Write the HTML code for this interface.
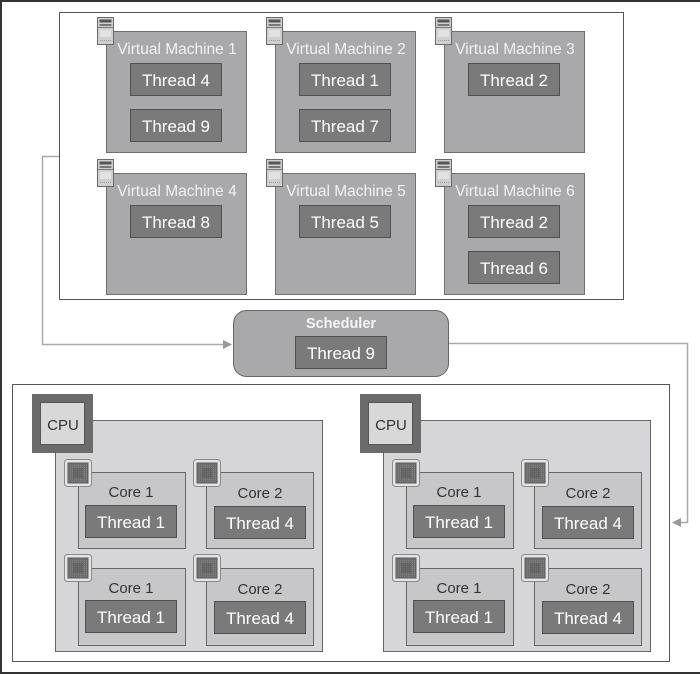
<!DOCTYPE html>
<html><head><meta charset="utf-8"><style>
html,body{margin:0;padding:0;background:#fff;}
svg{display:block;}
text{font-family:"Liberation Sans",Arial,sans-serif;}
</style></head><body>
<svg width="700" height="674" viewBox="0 0 700 674" xmlns="http://www.w3.org/2000/svg">
<defs>
  <g id="srv">
    <rect x="0.5" y="0.5" width="16" height="27" fill="#d0d0d0" stroke="#6a6a6a"/>
    <rect x="2.5" y="2.5" width="12" height="3" fill="#555"/>
    <rect x="2.5" y="7" width="12" height="2" fill="#777"/>
    <line x1="0.5" y1="10.5" x2="16.5" y2="10.5" stroke="#777"/>
    <rect x="3" y="13" width="11" height="7" fill="#e2e2e2"/>
    <line x1="3" y1="23.5" x2="14" y2="23.5" stroke="#999" stroke-dasharray="1,1"/>
  </g>
  <pattern id="chipPat" width="2" height="2" patternUnits="userSpaceOnUse">
    <rect width="2" height="2" fill="#6e6e6e"/>
    <rect width="1" height="1" fill="#808080"/>
  </pattern>
  <g id="chip">
    <rect x="0.5" y="0.5" width="27" height="27" rx="3" fill="#e4e4e4" stroke="#8a8a8a"/>
    <rect x="4" y="4" width="20" height="20" fill="url(#chipPat)" stroke="#5a5a5a"/>
    <rect x="9" y="9" width="10" height="10" fill="#5e5e5e" opacity="0.6"/>
  </g>
  <g id="thread">
    <rect x="0.5" y="0.5" width="91" height="32" fill="#7a7a7a" stroke="#505050"/>
  </g>
</defs>

<!-- outer frame -->
<line x1="0" y1="1" x2="700" y2="1" stroke="#333" stroke-width="2"/>
<line x1="1" y1="0" x2="1" y2="674" stroke="#333" stroke-width="2"/>
<line x1="0" y1="673" x2="700" y2="673" stroke="#333" stroke-width="2"/>

<!-- top container -->
<rect x="59.5" y="12.5" width="564" height="287" fill="#fff" stroke="#555"/>

<!-- connectors -->
<polyline points="59,156.5 42.5,156.5 42.5,344.5 224,344.5" fill="none" stroke="#aaa" stroke-width="1.5"/>
<polygon points="232,344.5 223,340 223,349" fill="#999"/>
<polyline points="449,343.5 687.5,343.5 687.5,522.5 680,522.5" fill="none" stroke="#aaa" stroke-width="1.5"/>
<polygon points="672,522.5 681,518 681,527" fill="#999"/>

<!-- VMs -->
<g font-size="15.5" fill="#f2f2f2" text-anchor="middle">
  <rect x="106.5" y="31.5" width="140" height="121" fill="#a9a9ac" stroke="#707070"/>
  <use href="#srv" x="97" y="17"/>
  <text x="177" y="54">Virtual Machine 1</text>
  <rect x="275.5" y="31.5" width="140" height="121" fill="#a9a9ac" stroke="#707070"/>
  <use href="#srv" x="266" y="17"/>
  <text x="346" y="54">Virtual Machine 2</text>
  <rect x="444.5" y="31.5" width="140" height="121" fill="#a9a9ac" stroke="#707070"/>
  <use href="#srv" x="435" y="17"/>
  <text x="515" y="54">Virtual Machine 3</text>
  <rect x="106.5" y="173.5" width="140" height="121" fill="#a9a9ac" stroke="#707070"/>
  <use href="#srv" x="97" y="159"/>
  <text x="177" y="196">Virtual Machine 4</text>
  <rect x="275.5" y="173.5" width="140" height="121" fill="#a9a9ac" stroke="#707070"/>
  <use href="#srv" x="266" y="159"/>
  <text x="346" y="196">Virtual Machine 5</text>
  <rect x="444.5" y="173.5" width="140" height="121" fill="#a9a9ac" stroke="#707070"/>
  <use href="#srv" x="435" y="159"/>
  <text x="515" y="196">Virtual Machine 6</text>
</g>

<!-- VM threads -->
<g font-size="17" fill="#fff" text-anchor="middle">
  <use href="#thread" x="130" y="63"/><text x="176" y="86">Thread 4</text>
  <use href="#thread" x="130" y="109"/><text x="176" y="132">Thread 9</text>
  <use href="#thread" x="299" y="63"/><text x="345" y="86">Thread 1</text>
  <use href="#thread" x="299" y="109"/><text x="345" y="132">Thread 7</text>
  <use href="#thread" x="468" y="63"/><text x="514" y="86">Thread 2</text>
  <use href="#thread" x="130" y="205"/><text x="176" y="228">Thread 8</text>
  <use href="#thread" x="299" y="205"/><text x="345" y="228">Thread 5</text>
  <use href="#thread" x="468" y="205"/><text x="514" y="228">Thread 2</text>
  <use href="#thread" x="468" y="251"/><text x="514" y="274">Thread 6</text>
</g>

<!-- Scheduler -->
<rect x="233.5" y="310.5" width="215" height="66" rx="13" fill="#a9a9ac" stroke="#666"/>
<text x="341" y="328" font-size="14.5" font-weight="bold" fill="#f5f5f5" text-anchor="middle">Scheduler</text>
<use href="#thread" x="295" y="336"/>
<text x="341" y="359" font-size="17" fill="#fff" text-anchor="middle">Thread 9</text>

<!-- bottom container -->
<rect x="12.5" y="384.5" width="657" height="277" fill="#fff" stroke="#555"/>

<!-- CPU block 1 -->
<g id="cpu1">
  <rect x="55.5" y="420.5" width="267" height="231" fill="#d6d6d8" stroke="#666"/>
  <rect x="32" y="394" width="61" height="59" fill="#6b6b6b"/>
  <rect x="40.5" y="402.5" width="44" height="42" fill="#d8d8d8" stroke="#555"/>
  <text x="63" y="430" font-size="15" fill="#333" text-anchor="middle">CPU</text>

  <rect x="78.5" y="472.5" width="107" height="76" fill="#c7c7c9" stroke="#666"/>
  <rect x="206.5" y="472.5" width="107" height="76" fill="#c7c7c9" stroke="#666"/>
  <rect x="78.5" y="568.5" width="107" height="77" fill="#c7c7c9" stroke="#666"/>
  <rect x="206.5" y="568.5" width="107" height="77" fill="#c7c7c9" stroke="#666"/>
  <use href="#chip" x="64" y="459"/>
  <use href="#chip" x="193" y="459"/>
  <use href="#chip" x="64" y="554"/>
  <use href="#chip" x="193" y="554"/>
  <g font-size="15" fill="#333" text-anchor="middle">
    <text x="131" y="497">Core 1</text>
    <text x="260" y="498">Core 2</text>
    <text x="131" y="593">Core 1</text>
    <text x="260" y="594">Core 2</text>
  </g>
  <g font-size="17" fill="#fff" text-anchor="middle">
    <use href="#thread" x="85" y="505"/><text x="131" y="528">Thread 1</text>
    <use href="#thread" x="214" y="506"/><text x="260" y="529">Thread 4</text>
    <use href="#thread" x="85" y="600"/><text x="131" y="623">Thread 1</text>
    <use href="#thread" x="214" y="601"/><text x="260" y="624">Thread 4</text>
  </g>
</g>
<use href="#cpu1" x="328" y="0"/>
</svg>
</body></html>
